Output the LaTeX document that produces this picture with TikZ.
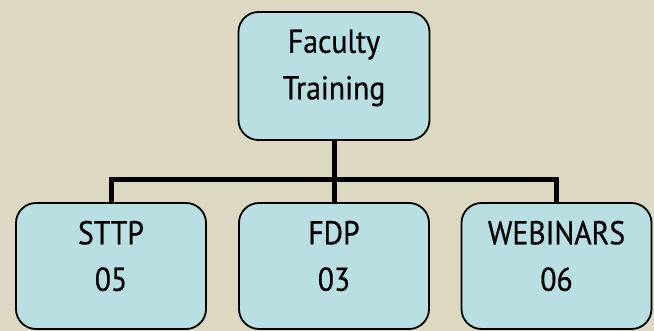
\documentclass[tikz,border=0pt]{standalone}
\usepackage{fontspec}
\setmainfont{PT Sans}[FakeStretch=0.9,FakeBold=0.6]
\usetikzlibrary{positioning,calc}
\definecolor{bgtan}{HTML}{DDD8C2}
\definecolor{boxblue}{HTML}{B9DFE3}

\begin{document}
\begin{tikzpicture}[x=1pt,y=-1pt,
  unit/.style={draw=black,fill=boxblue,line width=1.8pt,rounded corners=20pt,
    minimum width=190pt,minimum height=126pt,inner sep=0pt},
  label/.style={align=center,inner sep=0pt,font=\fontsize{33}{46.5}\selectfont},
  link/.style={line width=5pt}]

 % background
 \fill[bgtan] (0,0) rectangle (654,331);
 \useasboundingbox (0,0) rectangle (654,331);

 % boxes
 \node[unit,minimum width=191pt,minimum height=128pt] (top) at (334,76) {};
 \node[unit] (sttp) at (111,266) {};
 \node[unit] (fdp) at (334,266) {};
 \node[unit] (web) at (556.5,266) {};

 % texts
 \node[label] (toptxt) at ([yshift=8pt]top.center) {Faculty\\Training};
 \node[label] (sttptxt) at ([yshift=10pt]sttp.center) {STTP\\05};
 \node[label] (fdptxt) at ([yshift=10pt]fdp.center) {FDP\\03};
 \node[label] (webtxt) at ([yshift=10pt]web.center) {WEBINARS\\06};

 % connectors
 \coordinate (split) at (334,180);
 \draw[link] (top.south) -- (fdp.north);
 \draw[link] (split) -| (sttp.north);
 \draw[link] (split) -| (web.north);
\end{tikzpicture}
\end{document}
